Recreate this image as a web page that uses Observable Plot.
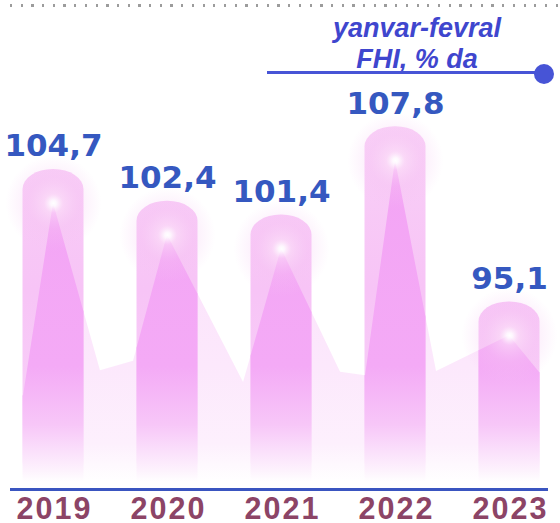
<!DOCTYPE html>
<html>
<head>
<meta charset="utf-8">
<script src="https://cdn.jsdelivr.net/npm/d3@7"></script>
<script src="https://cdn.jsdelivr.net/npm/@observablehq/plot@0.6"></script>
<style>
  html, body { margin: 0; padding: 0; background: #ffffff; }
  #wrap { position: relative; width: 560px; height: 523px; overflow: hidden; }
  #chart { position: absolute; left: 0; top: 0; }
  #dots { position: absolute; left: 10px; top: 4px; width: 548px; height: 3px;
          background: repeating-linear-gradient(to right, #9c9c9c 0 2.2px, transparent 2.2px 10.7px); }
  #legend { position: absolute; left: 277px; top: 13px; width: 280px; text-align: center;
            font-family: "Liberation Sans", Arial, sans-serif; font-style: italic; font-weight: bold;
            font-size: 27px; line-height: 31px; color: #3f46ce; }
  #legendLine { position: absolute; left: 267px; top: 71px; width: 276px; height: 3px; background: #4754d6; }
  #legendDot { position: absolute; left: 534px; top: 64px; width: 20px; height: 20px; border-radius: 50%; background: #4754d6; }
  g[aria-label="x-axis tick label"] text { letter-spacing: 2px; }
</style>
</head>
<body>
<div id="wrap">
  <div id="chart"></div>
  <div id="dots"></div>
  <div id="legend">yanvar-fevral<br>FHI, % da</div>
  <div id="legendLine"></div>
  <div id="legendDot"></div>
</div>
<script>
// ---- data ----
const years = [2019, 2020, 2021, 2022, 2023];
const values = [104.7, 102.4, 101.4, 107.8, 95.1];
const labels = ["104,7", "102,4", "101,4", "107,8", "95,1"];
// decorative ridge (valleys between the glowing peaks), in year / value units
const valleyX = [2018.737, 2019.412, 2019.702, 2020.667, 2021.518, 2021.737, 2022.360, 2023.272];
const valleyV = [88.3, 90.1, 90.8, 89.25, 90.0, 89.75, 90.05, 89.9];

const BASE = 82;      // value at bar bottom
const APEX = 2.45;    // peak sits this far below the bar top (value units)
const HW = 0.2675;    // half bar width (year units)

const data = years.map((y, i) => ({year: y, value: values[i], label: labels[i]}));

const ridge = [
  ...data.map(d => ({x: d.year, v: d.value - APEX})),
  ...valleyX.map((x, i) => ({x, v: valleyV[i]}))
].sort((a, b) => a.x - b.x);

function interp(x) {
  for (let i = 0; i < ridge.length - 1; i++) {
    const a = ridge[i], b = ridge[i + 1];
    if (x >= a.x && x <= b.x) return a.v + (b.v - a.v) * (x - a.x) / (b.x - a.x);
  }
  return x < ridge[0].x ? ridge[0].v : ridge[ridge.length - 1].v;
}

const tri = [];
for (const d of data) {
  const x0 = d.year - HW, x1 = d.year + HW;
  tri.push({year: d.year, x: x0, v: interp(x0)});
  for (const p of ridge) if (p.x > x0 && p.x < x1) tri.push({year: d.year, x: p.x, v: p.v});
  tri.push({year: d.year, x: x1, v: interp(x1)});
}

const font = "'Liberation Sans', Arial, sans-serif";

const plot = Plot.plot({
  width: 560,
  height: 523,
  marginLeft: 0,
  marginRight: 0,
  marginTop: 96,
  marginBottom: 41,
  style: {background: "transparent", overflow: "visible"},
  x: {domain: [2018.535, 2018.535 + 560 / 114], axis: null},
  y: {domain: [BASE, 110], axis: null},
  marks: [
    Plot.areaY(ridge, {x: "x", y1: BASE, y2: "v", fill: "url(#ridgeGrad)"}),
    Plot.rectY(data, {x1: d => d.year - HW, x2: d => d.year + HW, y1: BASE, y2: "value",
                      fill: "url(#barGrad)", rx: 30, ry: 20}),
    Plot.areaY(tri, {x: "x", y1: BASE, y2: "v", z: "year", fill: "url(#triGrad)"}),
    Plot.dot(data, {x: "year", y: d => d.value - APEX, r: 48, fill: "url(#glow)", stroke: null}),
    Plot.ruleY([BASE], {dy: 7, stroke: "#3a55c0", strokeWidth: 3, insetLeft: 10, insetRight: 12}),
    Plot.text(data, {x: "year", y: "value", text: "label", dy: -23,
                     fill: "#3558c0", fontSize: 31, fontWeight: "bold",
                     fontFamily: "'DejaVu Sans', Verdana, sans-serif"}),
    Plot.axisX(years, {tickSize: 0, tickPadding: 15, tickFormat: "d", fontSize: 30.5,
                       fontWeight: "bold", fill: "#8c4466", fontFamily: font, dx: 1, label: null})
  ]
});

document.getElementById("chart").appendChild(plot);

// gradients in pixel space from the y scale
const ys = plot.scale("y");
const yTop = ys.apply(110), yBot = ys.apply(BASE);
const svg = d3.select(plot);
const defs = svg.insert("defs", ":first-child");
function lin(id, stops) {
  const g = defs.append("linearGradient").attr("id", id).attr("gradientUnits", "userSpaceOnUse")
    .attr("x1", 0).attr("x2", 0).attr("y1", yTop).attr("y2", yBot);
  for (const [o, c, a] of stops) g.append("stop").attr("offset", o).attr("stop-color", c).attr("stop-opacity", a ?? 1);
}
lin("ridgeGrad", [[0, "#fbdcfa"], [0.7, "#fce8fc"], [0.9, "#fdf0fd"], [1, "#ffffff"]]);
lin("barGrad", [[0, "#f9d2f7"], [0.5, "#f7c4f6"], [0.8, "#f8cef8"], [0.95, "#fdeefd"], [1, "#ffffff"]]);
lin("triGrad", [[0, "#f3a2f4"], [0.7, "#f4aaf6"], [0.85, "#f7c6f8"], [0.97, "#fdf2fd"], [1, "#ffffff"]]);
const rg = defs.append("radialGradient").attr("id", "glow");
[[0, "#ffffff", 1], [0.06, "#ffffff", 0.85], [0.2, "#fce0f8", 0.55], [0.55, "#f6c4f3", 0.28], [1, "#f6c4f3", 0]]
  .forEach(([o, c, a]) => rg.append("stop").attr("offset", o).attr("stop-color", c).attr("stop-opacity", a));
</script>
</body>
</html>
